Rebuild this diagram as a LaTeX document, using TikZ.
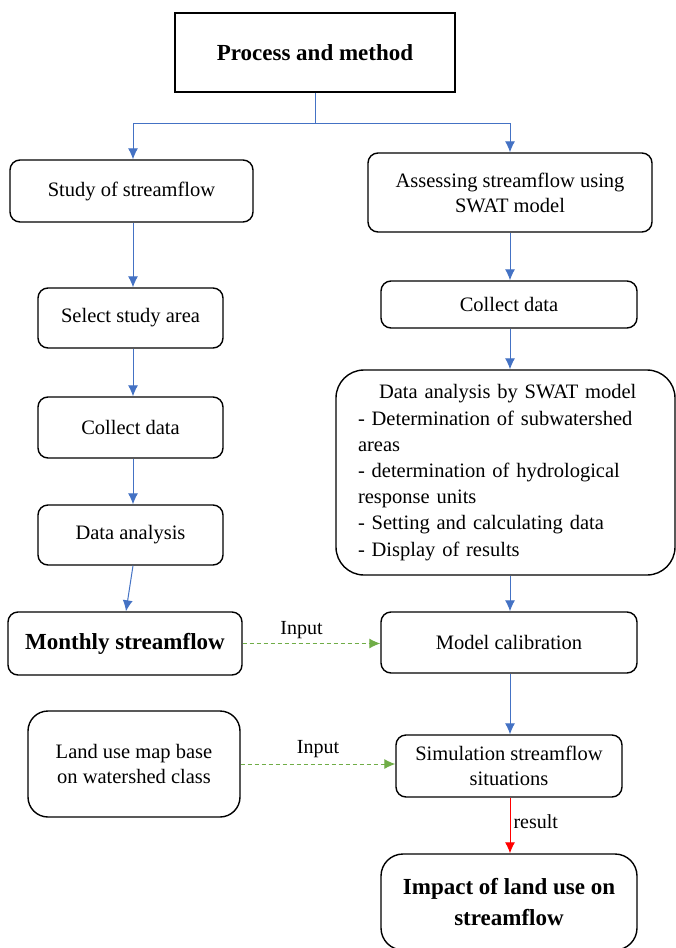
\documentclass[tikz,border=0pt]{standalone}
\usepackage{fontspec}
\setmainfont{Liberation Serif}
\usetikzlibrary{arrows.meta}
\definecolor{bl}{HTML}{4472C4}
\definecolor{gr}{HTML}{70AD47}
\tikzset{
  box/.style={draw, line width=1.4pt, rounded corners=10pt, align=center, inner sep=0pt,
    font=\fontsize{20.5}{25}\selectfont},
  boldbox/.style={box, font=\fontsize{23}{31}\selectfont\bfseries},
  flow/.style={draw=bl, line width=1pt, -{Latex[length=11pt,width=10pt]}},
  inp/.style={draw=gr, line width=1pt, dashed, dash pattern=on 4pt off 3pt, -{Latex[length=11pt,width=10pt]}},
  res/.style={draw=red, line width=1pt, -{Latex[length=11pt,width=10pt]}},
  lbl/.style={font=\fontsize{20}{22}\selectfont, inner sep=0pt}
}
\begin{document}
\begin{tikzpicture}[x=1pt,y=-1pt]
\useasboundingbox[fill=white] (0,0) rectangle (676,948);
\node[boldbox, rounded corners=0pt, minimum width=280pt, minimum height=79pt] (top) at (315,52.5) {Process and method};
\node[box, minimum width=243pt, minimum height=62pt] (study) at (131.5,191) {Study of streamflow};
\node[box, minimum width=284pt, minimum height=79pt] (assess) at (510,192.5) {Assessing streamflow using\\SWAT model};
\node[box, minimum width=185pt, minimum height=60pt] (select) at (130.5,318) {Select study area};
\node[box, minimum width=185pt, minimum height=61pt] (collectL) at (130.5,427.5) {Collect data};
\node[box, minimum width=185pt, minimum height=60pt] (danal) at (130.5,535) {Data analysis};
\node[boldbox, minimum width=234pt, minimum height=63pt] (monthly) at (125,643.5) {Monthly streamflow};
\node[box, minimum width=256pt, minimum height=47pt] (collectR) at (509,304.5) {Collect data};
\node[box, rounded corners=28pt, minimum width=339pt, minimum height=205pt, align=left,
  text width=295pt, font=\fontsize{20.5}{26.2}\selectfont] (swat) at (505.5,472.5)
  {\hspace*{21pt}Data analysis by SWAT model\\
   - Determination of subwatershed\\
   areas\\
   - determination of hydrological\\
   response units\\
   - Setting and calculating data\\
   - Display of results};
\node[box, minimum width=256pt, minimum height=61pt] (calib) at (509,642.5) {Model calibration};
\node[box, rounded corners=20pt, minimum width=212pt, minimum height=106pt] (land) at (134,764) {Land use map base\\on watershed class};
\node[box, minimum width=226pt, minimum height=62pt] (sim) at (509,766) {Simulation streamflow\\situations};
\node[boldbox, rounded corners=22pt, minimum width=256pt, minimum height=96pt] (impact) at (509,902) {Impact of land use on\\streamflow};
% connectors
\coordinate (split) at (315,123);
\coordinate (colL) at (133,0);
\coordinate (colR) at (510,0);
\draw[draw=bl, line width=1pt] (top.south) -- (split);
\draw[flow] (split) -| (colL |- study.north);
\draw[flow] (split) -| (colR |- assess.north);
\draw[flow] (colL |- study.south) -- (colL |- select.north);
\draw[flow] (colL |- select.south) -- (colL |- collectL.north);
\draw[flow] (colL |- collectL.south) -- (colL |- danal.north);
\draw[flow] (colL |- danal.south) -- ([xshift=1pt]monthly.north);
\draw[flow] (colR |- assess.south) -- (colR |- collectR.north);
\draw[flow] (colR |- collectR.south) -- (colR |- swat.north);
\draw[flow] (colR |- swat.south) -- (colR |- calib.north);
\draw[flow] (colR |- calib.south) -- (colR |- sim.north);
\draw[res] (colR |- sim.south) -- node[lbl, right, xshift=3pt, yshift=4pt] {result} (colR |- impact.north);
\draw[inp] (monthly.east) -- node[lbl, above, yshift=4pt, xshift=-10pt] {Input} (monthly.east -| calib.west);
\draw[inp] (land.east) -- node[lbl, above, yshift=6pt] {Input} (land.east -| sim.west);
\end{tikzpicture}
\end{document}
